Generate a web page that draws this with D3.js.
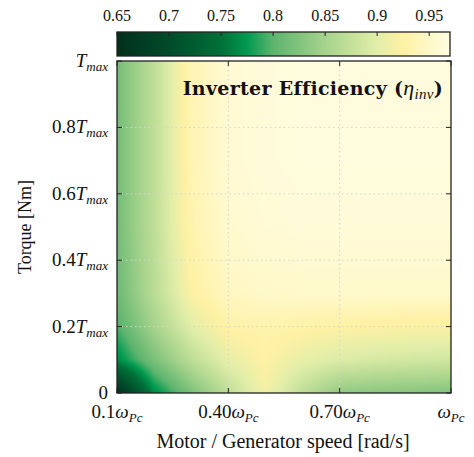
<!doctype html>
<html lang="en">
<head>
    <meta charset="UTF-8">
    <title>inverter-efficiency</title>
    <style>
        body { margin: 0; background: #fff; }
        text { font-family: "Liberation Serif", "DejaVu Serif", serif; fill: #111; font-weight: normal; }
        .grid line { stroke: #d4d4d4; stroke-width: 1px; stroke-dasharray: 1.5, 3; }
        .frame { fill: none; stroke: #222; stroke-width: 1.3px; }
        .tick { stroke: #222; stroke-width: 1px; }
    </style>
</head>
<body>

<svg width="474" height="457"></svg>

<script src="https://d3js.org/d3.v7.min.js"></script>
<script>
  // speed grid (fraction of w_Pc) and torque grid (fraction of T_max)
  const speeds = [0.1, 0.2, 0.3, 0.4, 0.5, 0.6, 0.7, 0.8, 0.9, 1.0]
  const torques = [0, 0.1, 0.2, 0.3, 0.5, 0.7, 1.0]

  // efficiency, one row per torque value
  const effT000 = [0.650, 0.765, 0.820, 0.870, 0.915, 0.870, 0.835, 0.830, 0.828, 0.825]
  const effT010 = [0.765, 0.820, 0.868, 0.905, 0.925, 0.905, 0.895, 0.890, 0.887, 0.885]
  const effT020 = [0.795, 0.850, 0.900, 0.928, 0.932, 0.928, 0.925, 0.923, 0.921, 0.920]
  const effT030 = [0.810, 0.865, 0.922, 0.945, 0.950, 0.952, 0.952, 0.952, 0.952, 0.952]
  const effT050 = [0.815, 0.870, 0.932, 0.955, 0.960, 0.962, 0.962, 0.962, 0.962, 0.962]
  const effT070 = [0.815, 0.870, 0.935, 0.958, 0.963, 0.966, 0.966, 0.966, 0.966, 0.966]
  const effT100 = [0.815, 0.870, 0.935, 0.958, 0.963, 0.966, 0.966, 0.966, 0.966, 0.966]
  const effRows = [effT000, effT010, effT020, effT030, effT050, effT070, effT100]

  const cbTicks = [0.65, 0.7, 0.75, 0.8, 0.85, 0.9, 0.95]
  const xTicks = [0.1, 0.4, 0.7, 1.0]
  const xTickLabels = [['0.1', 'ω', 'Pc'], ['0.40', 'ω', 'Pc'], ['0.70', 'ω', 'Pc'], ['', 'ω', 'Pc']]
  const yTicks = [0, 0.2, 0.4, 0.6, 0.8, 1.0]
  const yTickLabels = [['0', '', ''], ['0.2', 'T', 'max'], ['0.4', 'T', 'max'], ['0.6', 'T', 'max'], ['0.8', 'T', 'max'], ['', 'T', 'max']]

  // colour map stops
  const cmapVals = [0.65, 0.70, 0.75, 0.775, 0.80, 0.85, 0.90, 0.925, 0.95, 0.97]
  const cmapCols = ['#00301a', '#004b2a', '#007038', '#009a50', '#5db46e', '#a6d38c', '#e2eea8', '#fff1a4', '#fff8c8', '#fffde2']

  const color = d3.scaleLinear().domain(cmapVals).range(cmapCols).clamp(true)

  const pLeft = 117, pRight = 451, pTop = 61, pBottom = 393
  const x = d3.scaleLinear().domain([0.1, 1.0]).range([pLeft, pRight])
  const y = d3.scaleLinear().domain([0, 1]).range([pBottom, pTop])

  const svg = d3.select('svg')

  // heat map: bilinear shading of the grid, drawn on a canvas
  const w = pRight - pLeft, h = pBottom - pTop
  const canvas = document.createElement('canvas')
  canvas.width = w
  canvas.height = h
  const ctx = canvas.getContext('2d')
  const img = ctx.createImageData(w, h)

  function bracket(arr, v) {
    let i = d3.bisectRight(arr, v) - 1
    i = Math.max(0, Math.min(arr.length - 2, i))
    const t = (v - arr[i]) / (arr[i + 1] - arr[i])
    return [i, Math.max(0, Math.min(1, t))]
  }

  for (let py = 0; py < h; py++) {
    const tq = y.invert(pTop + py + 0.5)
    const [j, ty] = bracket(torques, tq)
    for (let px = 0; px < w; px++) {
      const sp = x.invert(pLeft + px + 0.5)
      const [i, tx] = bracket(speeds, sp)
      const a = effRows[j][i], b = effRows[j][i + 1]
      const c = effRows[j + 1][i], d = effRows[j + 1][i + 1]
      const v = (a * (1 - tx) + b * tx) * (1 - ty) + (c * (1 - tx) + d * tx) * ty
      const col = d3.rgb(color(v))
      const k = (py * w + px) * 4
      img.data[k] = col.r
      img.data[k + 1] = col.g
      img.data[k + 2] = col.b
      img.data[k + 3] = 255
    }
  }
  ctx.putImageData(img, 0, 0)

  svg.append('image')
    .attr('x', pLeft)
    .attr('y', pTop)
    .attr('width', w)
    .attr('height', h)
    .attr('href', canvas.toDataURL())

  // grid
  const grid = svg.append('g').attr('class', 'grid')
  grid.selectAll('line.gx')
    .data(xTicks.slice(1, -1))
    .enter()
    .append('line')
    .attr('x1', d => x(d)).attr('x2', d => x(d))
    .attr('y1', pTop).attr('y2', pBottom)
  grid.selectAll('line.gy')
    .data(yTicks.slice(1, -1))
    .enter()
    .append('line')
    .attr('x1', pLeft).attr('x2', pRight)
    .attr('y1', d => y(d)).attr('y2', d => y(d))

  // ticks (inward, mirrored)
  const ticks = svg.append('g')
  xTicks.forEach(d => {
    ticks.append('line').attr('class', 'tick').attr('x1', x(d)).attr('x2', x(d)).attr('y1', pBottom).attr('y2', pBottom - 5)
    ticks.append('line').attr('class', 'tick').attr('x1', x(d)).attr('x2', x(d)).attr('y1', pTop).attr('y2', pTop + 5)
  })
  yTicks.forEach(d => {
    ticks.append('line').attr('class', 'tick').attr('x1', pLeft).attr('x2', pLeft + 5).attr('y1', y(d)).attr('y2', y(d))
    ticks.append('line').attr('class', 'tick').attr('x1', pRight).attr('x2', pRight - 5).attr('y1', y(d)).attr('y2', y(d))
  })

  svg.append('rect').attr('class', 'frame')
    .attr('x', pLeft).attr('y', pTop).attr('width', w).attr('height', h)

  // tick labels
  function mathLabel(sel, parts) {
    sel.append('tspan').text(parts[0])
    if (parts[1]) {
      sel.append('tspan').attr('font-style', 'italic').text(parts[1])
      sel.append('tspan').attr('font-style', 'italic').attr('font-size', '13px').attr('dy', 4).text(parts[2])
    }
  }

  xTicks.forEach((d, k) => {
    const t = svg.append('text')
      .attr('x', x(d)).attr('y', 418)
      .attr('text-anchor', 'middle')
      .attr('font-size', '19px')
    mathLabel(t, xTickLabels[k])
  })

  yTicks.forEach((d, k) => {
    const t = svg.append('text')
      .attr('x', 108).attr('y', y(d) + 6)
      .attr('text-anchor', 'end')
      .attr('font-size', '19px')
    mathLabel(t, yTickLabels[k])
  })

  // axis titles
  svg.append('text')
    .attr('x', (pLeft + pRight) / 2 - 1).attr('y', 448)
    .attr('text-anchor', 'middle')
    .attr('font-size', '20px')
    .text('Motor / Generator speed [rad/s]')

  svg.append('text')
    .attr('transform', `translate(31, ${(pTop + pBottom) / 2}) rotate(-90)`)
    .attr('text-anchor', 'middle')
    .attr('font-size', '18px')
    .text('Torque [Nm]')

  // title inside the plot
  const title = svg.append('text')
    .attr('x', 443).attr('y', 95)
    .attr('text-anchor', 'end')
    .attr('font-size', '19px')
    .style('font-family', '"DejaVu Serif", serif')
    .style('letter-spacing', '0.3px')
  title.append('tspan').attr('font-weight', 'bold').text('Inverter Efficiency (')
  title.append('tspan').attr('font-style', 'italic').style('font-family', '"Liberation Serif", serif').attr('font-size', '22px').text('η')
  title.append('tspan').attr('font-style', 'italic').style('font-family', '"Liberation Serif", serif').attr('font-size', '15px').attr('dy', 4).text('inv')
  title.append('tspan').attr('font-weight', 'bold').attr('dy', -4).text(')')

  // colour bar
  const cbLeft = 117, cbRight = 450, cbTop = 32, cbBottom = 56
  const cbX = d3.scaleLinear().domain([0.65, 0.97]).range([cbLeft, cbRight])

  const grad = svg.append('defs').append('linearGradient')
    .attr('id', 'cbgrad')
    .attr('x1', '0%').attr('x2', '100%').attr('y1', '0%').attr('y2', '0%')
  grad.selectAll('stop')
    .data(cmapVals)
    .enter()
    .append('stop')
    .attr('offset', d => ((cbX(d) - cbLeft) / (cbRight - cbLeft) * 100) + '%')
    .attr('stop-color', d => color(d))

  svg.append('rect')
    .attr('x', cbLeft).attr('y', cbTop)
    .attr('width', cbRight - cbLeft).attr('height', cbBottom - cbTop)
    .attr('fill', 'url(#cbgrad)')

  svg.selectAll('line.cbtick')
    .data(cbTicks)
    .enter()
    .append('line')
    .attr('class', 'tick')
    .attr('x1', d => cbX(d)).attr('x2', d => cbX(d))
    .attr('y1', cbTop).attr('y2', cbTop + 4)

  svg.append('rect').attr('class', 'frame')
    .attr('x', cbLeft).attr('y', cbTop)
    .attr('width', cbRight - cbLeft).attr('height', cbBottom - cbTop)

  svg.selectAll('text.cblabel')
    .data(cbTicks)
    .enter()
    .append('text')
    .attr('x', d => cbX(d)).attr('y', 21)
    .attr('text-anchor', 'middle')
    .attr('font-size', '16px')
    .text(d => d)
</script>
</body>
</html>
